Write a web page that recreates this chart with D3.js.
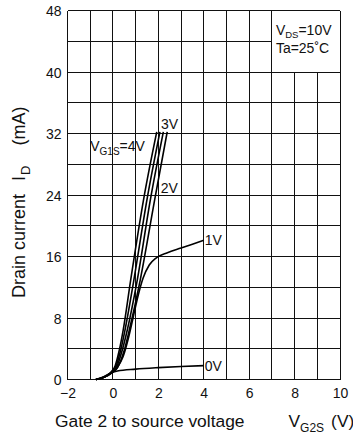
<!DOCTYPE html>
<html>
<head>
<meta charset="utf-8">
<script src="https://cdn.jsdelivr.net/npm/d3@7"></script>
<style>
  html, body { margin: 0; padding: 0; background: #fff; }
  svg { display: block; }
  text { font-family: "Liberation Sans", Arial, sans-serif; fill: #111; }
</style>
</head>
<body>
<svg id="chart" width="353" height="437"></svg>
<script>
// Drain current vs. gate-2 voltage, one curve per gate-1 bias (V_G1S)
const xTicks = [-2, 0, 2, 4, 6, 8, 10];
const yTicks = [0, 8, 16, 24, 32, 40, 48];
const xTickLabels = ["\u22122", "0", "2", "4", "6", "8", "10"];

// V_G2S (V) / I_D (mA) samples for each curve
const vg1s4V = [[-0.75, 0], [-0.4, 0.3], [-0.1, 0.9], [0.1, 1.8], [0.28, 3.8], [0.45, 6.4], [0.78, 12.9], [1.35, 23.4], [1.93, 32.2]];
const vg1s3V = [[-0.75, 0], [-0.4, 0.3], [-0.1, 0.85], [0.13, 1.7], [0.34, 3.8], [0.53, 6.4], [0.92, 12.9], [1.5, 23.4], [2.07, 32.2]];
const vg1s25V = [[-0.75, 0], [-0.4, 0.3], [-0.1, 0.8], [0.16, 1.6], [0.41, 3.8], [0.63, 6.4], [1.07, 12.9], [1.65, 23.4], [2.22, 32.2]];
const vg1s2V = [[-0.75, 0], [-0.4, 0.3], [-0.1, 0.8], [0.19, 1.5], [0.5, 3.8], [0.72, 6.4], [1.2, 12.9], [1.84, 23.4], [2.39, 32.2]];
const vg1s1V = [[-0.75, 0], [-0.4, 0.3], [-0.1, 0.75], [0.2, 1.6], [0.45, 3.0], [0.7, 5.6], [0.9, 8.2], [1.1, 10.8], [1.33, 13.2], [1.6, 14.9], [1.9, 15.8], [2.4, 16.5], [3.0, 17.1], [3.5, 17.6], [4.0, 18.1]];
const vg1s0V = [[-0.75, 0], [-0.4, 0.35], [-0.1, 0.85], [0.2, 1.1], [1.0, 1.35], [2.0, 1.55], [3.0, 1.7], [4.0, 1.8]];

const series = [vg1s4V, vg1s3V, vg1s25V, vg1s2V, vg1s1V, vg1s0V];

const svg = d3.select("#chart");
const W = 353, H = 437;
const margin = { left: 67.5, right: 13, top: 10.5, bottom: 57.5 };

const x = d3.scaleLinear().domain([-2, 10]).range([margin.left, W - margin.right]);
const y = d3.scaleLinear().domain([0, 48]).range([H - margin.bottom, margin.top]);

const grid = svg.append("g").attr("stroke", "#111").attr("stroke-width", 1).attr("fill", "none")
  .attr("shape-rendering", "crispEdges");

// Grid: 1 V columns, 4 mA rows; the condition box (x 7..10, y 40..48) stays blank
d3.range(-2, 11, 1).forEach(v => {
  const top = (v > 7 && v < 10) ? y(40) : y(48);
  grid.append("line").attr("x1", x(v)).attr("x2", x(v)).attr("y1", y(0)).attr("y2", top);
});
d3.range(0, 49, 4).forEach(i => {
  const right = (i > 40 && i < 48) ? x(7) : x(10);
  grid.append("line").attr("x1", x(-2)).attr("x2", right).attr("y1", y(i)).attr("y2", y(i));
});

// Tick labels via axes (no tick marks, no domain line)
const yAxis = d3.axisLeft(y).tickValues(yTicks).tickSize(0).tickPadding(6);
const xAxis = d3.axisBottom(x).tickValues(xTicks).tickSize(0).tickPadding(9)
  .tickFormat((d, i) => xTickLabels[i]);

const gy = svg.append("g").attr("transform", `translate(${x(-2)},0)`).call(yAxis);
const gx = svg.append("g").attr("transform", `translate(0,${y(0)})`).call(xAxis);
[gx, gy].forEach(g => {
  g.select(".domain").remove();
  g.selectAll("text").attr("font-size", 14).attr("fill", "#111")
    .attr("font-family", "Liberation Sans, Arial, sans-serif");
});
gy.selectAll("text").attr("dy", "0.38em");

// Curves
const line = d3.line().x(d => x(d[0])).y(d => y(d[1])).curve(d3.curveMonotoneX);
svg.append("g").selectAll("path").data(series).join("path")
  .attr("d", line)
  .attr("fill", "none")
  .attr("stroke", "#000")
  .attr("stroke-width", 1.6)
  .attr("stroke-linejoin", "round");

// Curve labels
const fs = 14;
const lab = (px, py, txt) => svg.append("text").attr("x", px).attr("y", py).attr("font-size", fs).text(txt);
lab(x(2.07) + 1, y(32.2) - 3, "3V");
lab(x(1.84) + 6, y(24) - 2, "2V");
const end1 = vg1s1V[vg1s1V.length - 1];
const end0 = vg1s0V[vg1s0V.length - 1];
lab(x(end1[0]) + 1, y(end1[1]) + 5, "1V");
lab(x(end0[0]) + 1, y(end0[1]) + 5, "0V");

const g4 = svg.append("text").attr("x", x(-1)).attr("y", y(29.7)).attr("font-size", fs);
g4.append("tspan").text("V");
g4.append("tspan").attr("font-size", 10).attr("dy", 4).text("G1S");
g4.append("tspan").attr("dy", -4).text("=4V");

// Measurement conditions
const c1 = svg.append("text").attr("x", x(7) + 4).attr("y", 35).attr("font-size", fs);
c1.append("tspan").text("V");
c1.append("tspan").attr("font-size", 9.5).attr("dy", 3).text("DS");
c1.append("tspan").attr("dy", -3).text("=10V");
svg.append("text").attr("x", x(7) + 4).attr("y", 53).attr("font-size", fs).text("Ta=25\u02DAC");

// Axis titles
const xt = svg.append("text").attr("x", 55).attr("y", 427).attr("font-size", 17.4);
xt.append("tspan").text("Gate 2 to source voltage");
xt.append("tspan").attr("dx", 44).text("V");
xt.append("tspan").attr("font-size", 12).attr("dy", 5).text("G2S");
xt.append("tspan").attr("dx", 7).attr("dy", -5).text("(V)");

const yt = svg.append("text").attr("transform", "translate(25,298) rotate(-90)").attr("font-size", 18);
yt.append("tspan").text("Drain current");
yt.append("tspan").attr("dx", 13).text("I");
yt.append("tspan").attr("font-size", 13).attr("dx", 1).attr("dy", 5).text("D");
yt.append("tspan").attr("dx", 20).attr("dy", -5).text("(mA)");
</script>
</body>
</html>
